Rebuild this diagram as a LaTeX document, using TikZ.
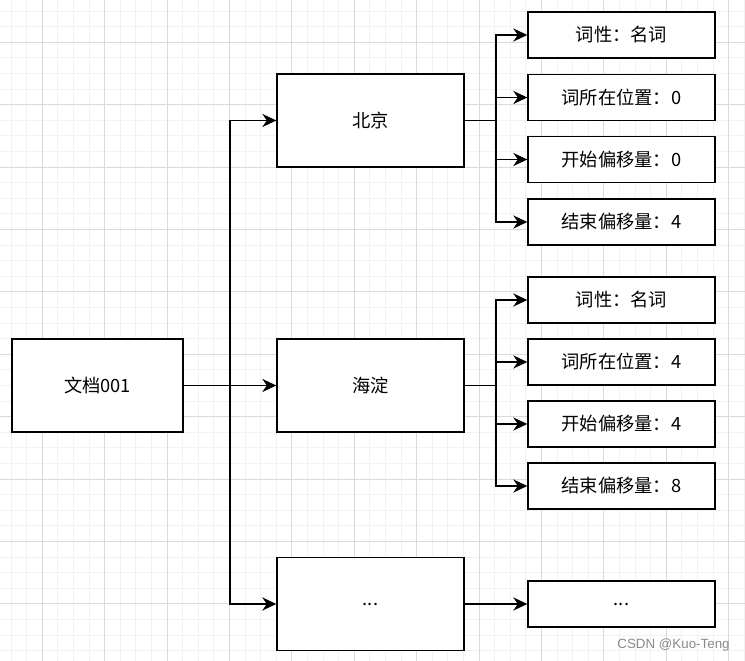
\documentclass[tikz,border=0pt]{standalone}
\usepackage{fontspec}
\setmainfont{Noto Sans CJK SC}
\newfontfamily\wmfont{Liberation Sans}
\usetikzlibrary{arrows.meta}
\definecolor{minorgrid}{HTML}{F2F2F2}
\definecolor{majorgrid}{HTML}{DADADA}
\definecolor{wmgray}{HTML}{8A8A8A}
\tikzset{
  box/.style={draw=black, line width=0.8pt, fill=white, inner sep=0pt, font=\fontsize{10.4pt}{12pt}\selectfont},
  bigbox/.style={box, minimum width=3.74cm, minimum height=1.86cm},
  docbox/.style={box, minimum width=3.42cm, minimum height=1.86cm},
  smallbox/.style={box, minimum width=3.74cm, minimum height=0.92cm},
  link/.style={draw=black, line width=0.8pt},
  arr/.style={link, -{Stealth[length=8pt, width=7.5pt, inset=2.6pt]}}
}
\begin{document}
\begin{tikzpicture}[x=0.02cm, y=-0.02cm]
\useasboundingbox (0,0) rectangle (745,661);
\fill[white] (0,0) rectangle (745,661);
% grid
\foreach \i in {0,...,47} {
  \pgfmathsetmacro\xx{11.1+15.6*\i}
  \draw[minorgrid, line width=0.6pt] (\xx,0) -- (\xx,661);
}
\foreach \i in {0,...,42} {
  \pgfmathsetmacro\yy{11.1+15.6*\i}
  \draw[minorgrid, line width=0.6pt] (0,\yy) -- (745,\yy);
}
\foreach \i in {0,...,11} {
  \pgfmathsetmacro\xx{42.3+62.4*\i}
  \draw[majorgrid, line width=0.6pt] (\xx,0) -- (\xx,661);
}
\foreach \i in {0,...,10} {
  \pgfmathsetmacro\yy{42.3+62.4*\i}
  \draw[majorgrid, line width=0.6pt] (0,\yy) -- (745,\yy);
}
% nodes
\node[docbox] (doc) at (97.5,385.5) {文档001};
\node[bigbox] (bj) at (370.5,120.5) {北京};
\node[bigbox] (hd) at (370.5,385.5) {海淀};
\node[bigbox] (dt) at (370.5,604) {...};
\node[smallbox] (a1) at (621.5,35) {词性：名词};
\node[smallbox] (a2) at (621.5,97.5) {词所在位置：0};
\node[smallbox] (a3) at (621.5,159.5) {开始偏移量：0};
\node[smallbox] (a4) at (621.5,222) {结束偏移量：4};
\node[smallbox] (b1) at (621.5,300) {词性：名词};
\node[smallbox] (b2) at (621.5,362) {词所在位置：4};
\node[smallbox] (b3) at (621.5,424) {开始偏移量：4};
\node[smallbox] (b4) at (621.5,486) {结束偏移量：8};
\node[smallbox] (c1) at (621.5,604) {...};
% connectors
\coordinate (trunk) at (230,385.5);
\coordinate (fa) at (496,120.5);
\coordinate (fb) at (496,385.5);
\draw[arr] (doc.east) -- (hd.west);
\draw[arr] (trunk) |- (bj.west);
\draw[arr] (trunk) |- (dt.west);
\draw[link] (bj.east) -- (fa);
\foreach \n in {a1,a2,a3,a4} \draw[arr] (fa) |- (\n.west);
\draw[link] (hd.east) -- (fb);
\foreach \n in {b1,b2,b3,b4} \draw[arr] (fb) |- (\n.west);
\draw[arr] (dt.east) -- (c1.west);
% watermark
\node[text=wmgray, font=\wmfont\fontsize{7.6pt}{9pt}\selectfont, anchor=east, inner sep=0pt] (wm) at (730,645) {CSDN @Kuo-Teng};
\end{tikzpicture}
\end{document}
